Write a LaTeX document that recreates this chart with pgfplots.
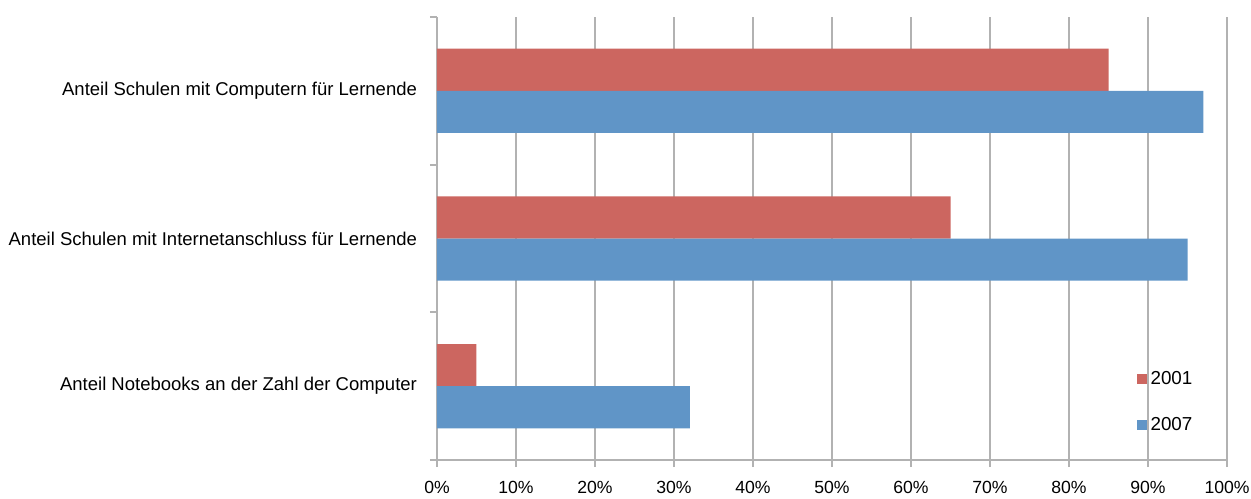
\documentclass[border=0pt]{standalone}
\usepackage{fontspec}
\setmainfont{Liberation Sans}
\usepackage{pgfplots}
\pgfplotsset{compat=1.18}
\definecolor{cred}{RGB}{204,102,96}
\definecolor{cblue}{RGB}{96,149,199}
\definecolor{cgrid}{RGB}{178,178,178}
\begin{document}
\begin{tikzpicture}
\useasboundingbox (-218.5pt,-19pt) rectangle (407pt,230pt);
\begin{axis}[
 scale only axis, width=395pt, height=221.5pt,
 xbar, xmin=0, xmax=100, ymin=-0.5, ymax=2.5,
 bar width=0.285,
 axis x line*=bottom, axis y line*=left,
 axis line style={cgrid, line width=0.9pt},
 xtick={0,10,...,100}, xmajorgrids, grid style={cgrid, line width=0.9pt},
 xticklabel={\pgfmathprintnumber{\tick}\%},
 /pgf/number format/assume math mode=true,
 ytick={-0.5,0.5,1.5,2.5}, yticklabels={},
 extra y ticks={0,1,2},
 extra y tick labels={Anteil Notebooks an der Zahl der Computer, Anteil Schulen mit Internetanschluss für Lernende, Anteil Schulen mit Computern für Lernende},
 extra y tick style={tick style={draw=none}},
 tick align=outside, major tick length=3.5pt,
 tick style={cgrid, line width=0.9pt},
 xticklabel style={font=\fontsize{8.8}{10}\selectfont, text=black, yshift=-3.5pt},
 yticklabel style={font=\fontsize{9.25}{11}\selectfont, text=black, xshift=-3pt},
 legend style={draw=none, fill=none, at={(0.885,0.211)}, anchor=north west, inner sep=0pt, row sep=11pt, font=\fontsize{9.4}{11}\selectfont},
 legend cell align=left,
 legend image code/.code={\fill[#1, draw=none] (0pt,-2.5pt) rectangle (5pt,2.5pt);},
]
\addplot[fill=cred, draw=none, bar shift=0.1425] coordinates {(5,0) (65,1) (85,2)};
\addplot[fill=cblue, draw=none, bar shift=-0.1425] coordinates {(32,0) (95,1) (97,2)};
\legend{2001, 2007}
\end{axis}
\end{tikzpicture}
\end{document}
